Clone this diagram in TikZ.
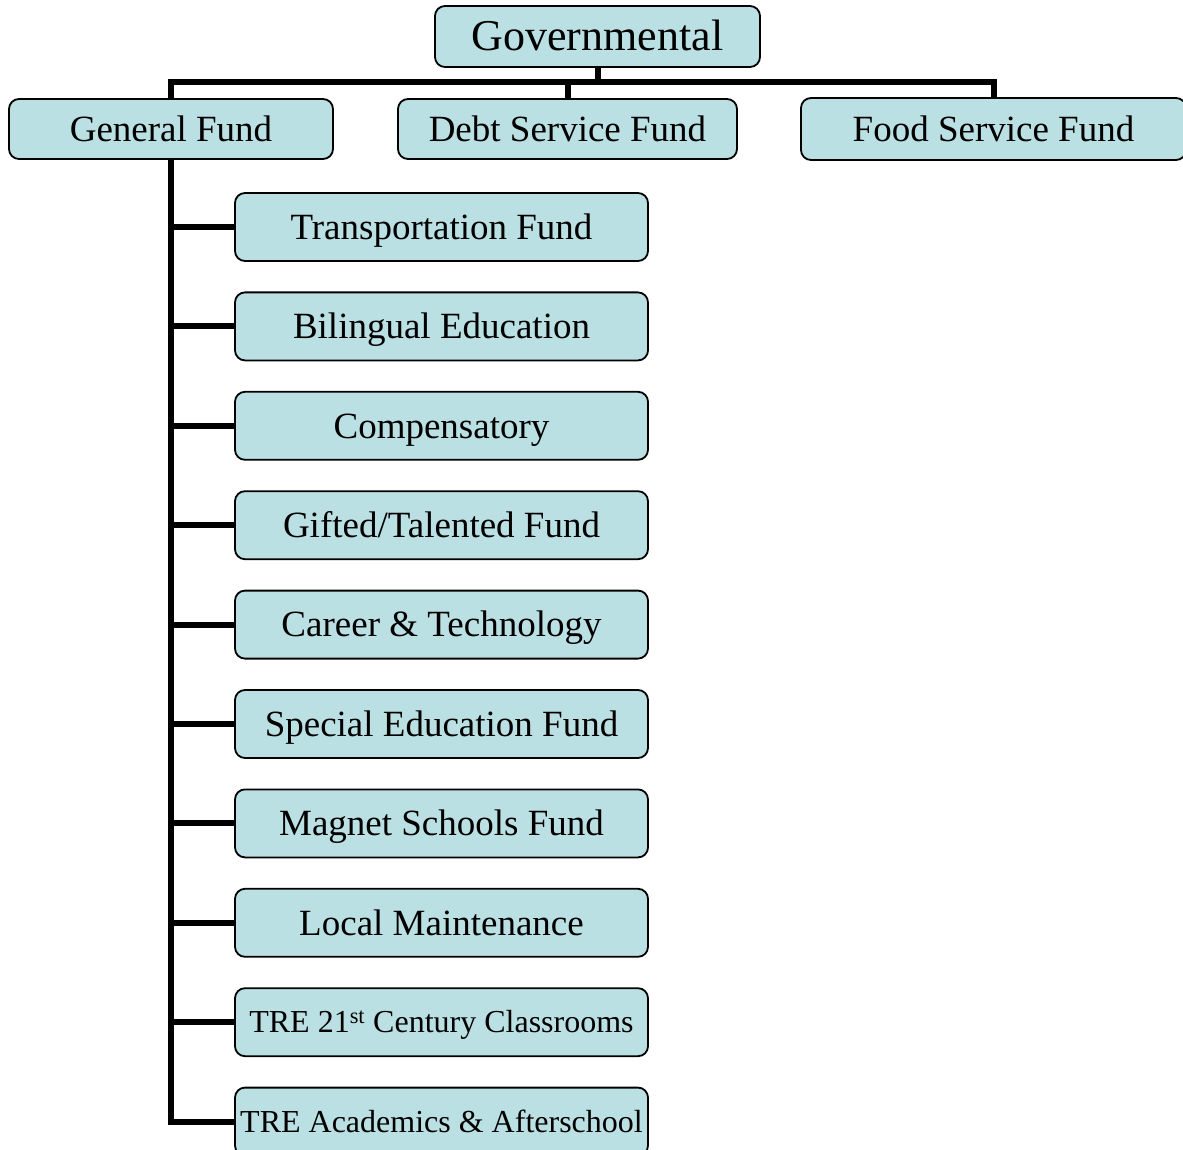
\documentclass[tikz,border=0pt]{standalone}
\usepackage{fontspec}
\setmainfont{Liberation Serif}
\definecolor{fundfill}{HTML}{BBE0E3}

\begin{document}
\begin{tikzpicture}[x=1pt,y=-1pt,
    fund/.style = {draw, fill=fundfill, line width=1.8pt, rounded corners=10pt, inner sep=0pt, minimum height=60pt, text height=29pt, text depth=4.5pt, font=\fontsize{37}{44}\selectfont},
    sub/.style = {fund, minimum width=413pt, minimum height=68pt},
    small/.style = {text height=25pt, text depth=3.8pt, font=\fontsize{32}{38}\selectfont},
    link/.style = {line width=6pt},
    node distance={99.4pt}]
        \useasboundingbox (0,0) rectangle (1183,1150);
        % top level
        \node[fund, minimum width=325pt, minimum height=61pt, text height=34pt, text depth=5.3pt, font=\fontsize{44}{52}\selectfont] (gov) at (597.5,36.5) {Governmental};
        \node[fund, minimum width=324pt] (gen) at (171,129) {General Fund};
        \node[fund, minimum width=339pt] (debt) at (567.5,129) {Debt Service Fund};
        \node[fund, minimum width=385pt, minimum height=62pt] (food) at (993.5,129) {Food Service Fund};
        \coordinate (bus) at (597.5,82);
        % special revenue funds
        \node[sub] (t1) at (441.5,227) {Transportation Fund};
        \node[sub] (t2) [below of=t1] {Bilingual Education};
        \node[sub] (t3) [below of=t2] {Compensatory};
        \node[sub] (t4) [below of=t3] {Gifted/Talented Fund};
        \node[sub] (t5) [below of=t4] {Career \& Technology};
        \node[sub] (t6) [below of=t5] {Special Education Fund};
        \node[sub] (t7) [below of=t6] {Magnet Schools Fund};
        \node[sub] (t8) [below of=t7] {Local Maintenance};
        \node[sub, small] (t9) [below of=t8] {TRE 21\textsuperscript{st} Century Classrooms};
        \node[sub, small] (t10) [below of=t9] {TRE Academics \& Afterschool};
        % connectors
        \draw[link] (gov.south) -- (bus);
        \draw[link] (gen.north) -- (gen.north |- bus) -- (food.north |- bus) -- (food.north);
        \draw[link] (debt.north) -- (debt.north |- bus);
        \draw[link] (gen.south) -- (gen.south |- t10) -- (t10.west);
        \foreach \i in {1,...,9}
            \draw[link] (gen.south |- t\i) -- (t\i.west);
\end{tikzpicture}
\end{document}
